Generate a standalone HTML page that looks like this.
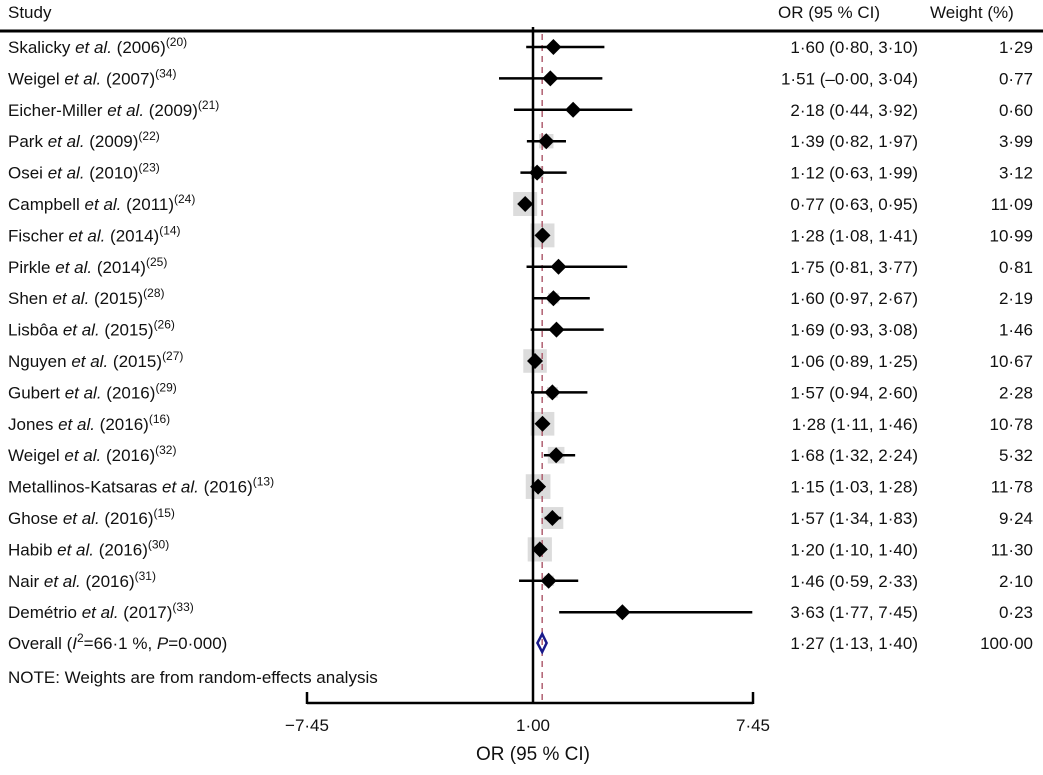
<!DOCTYPE html>
<html><head><meta charset="utf-8"><style>
body{margin:0;background:#fff;}
svg text{font-family:"Liberation Sans",Arial,sans-serif;font-size:17px;fill:#111;}
</style></head><body>
<svg id="plot" width="1043" height="770" xmlns="http://www.w3.org/2000/svg"></svg>
<script>
const studies=["Skalicky|(2006)|20","Weigel|(2007)|34","Eicher-Miller|(2009)|21","Park|(2009)|22","Osei|(2010)|23","Campbell|(2011)|24","Fischer|(2014)|14","Pirkle|(2014)|25","Shen|(2015)|28","Lisbôa|(2015)|26","Nguyen|(2015)|27","Gubert|(2016)|29","Jones|(2016)|16","Weigel|(2016)|32","Metallinos-Katsaras|(2016)|13","Ghose|(2016)|15","Habib|(2016)|30","Nair|(2016)|31","Demétrio|(2017)|33"];
const orVals=[1.60,1.51,2.18,1.39,1.12,0.77,1.28,1.75,1.60,1.69,1.06,1.57,1.28,1.68,1.15,1.57,1.20,1.46,3.63];
const lowVals=[0.80,-0.00,0.44,0.82,0.63,0.63,1.08,0.81,0.97,0.93,0.89,0.94,1.11,1.32,1.03,1.34,1.10,0.59,1.77];
const highVals=[3.10,3.04,3.92,1.97,1.99,0.95,1.41,3.77,2.67,3.08,1.25,2.60,1.46,2.24,1.28,1.83,1.40,2.33,7.45];
const weights=[1.29,0.77,0.60,3.99,3.12,11.09,10.99,0.81,2.19,1.46,10.67,2.28,10.78,5.32,11.78,9.24,11.30,2.10,0.23];
const overall=[1.27,1.13,1.40];
const tickVals=["−7·45","1·00","7·45"];
const svg=document.getElementById('plot');
const NS="http://www.w3.org/2000/svg";
const x=v=>533+(v-1)*34;
const y=i=>47+i*31.4;
const f=(v)=>(v<0||Object.is(v,-0)?"–":"")+Math.abs(v).toFixed(2).replace('.','·');
function el(t,a,p){const e=document.createElementNS(NS,t);for(const k in a)e.setAttribute(k,a[k]);(p||svg).appendChild(e);return e;}
function txt(s,xx,yy,anchor,name,fs){const e=el('text',{x:xx,y:yy,'text-anchor':anchor||'start'});if(fs)e.style.fontSize=fs+'px';e.innerHTML=s;


return e;}
txt("Study",8,18,'start','study-header');
txt("OR (95 % CI)",778,18,'start','or-header');
txt("Weight (%)",930,18,'start','weight-header');
let l=el('line',{x1:0,y1:31,x2:1043,y2:31,stroke:'#000','stroke-width':3});


studies.forEach((s,i)=>{
 const yy=y(i);
 const sz=7.2*Math.sqrt(weights[i]);
 let b=el('rect',{x:x(orVals[i])-sz/2,y:yy-sz/2,width:sz,height:sz,fill:'#dcdcdc'});
 
 
});
l=el('line',{x1:x(1),y1:27,x2:x(1),y2:703,stroke:'#000','stroke-width':2.5});


l=el('line',{x1:x(overall[0]),y1:34,x2:x(overall[0]),y2:703,stroke:'#b06070','stroke-width':1.5,'stroke-dasharray':'6,5'});


studies.forEach((s,i)=>{
 const [n,yr,r]=s.split('|');const yy=y(i);
 txt(n+' <tspan font-style="italic">et al.</tspan> '+yr+'<tspan dy="-7" font-size="12">('+r+')</tspan>',8,yy+6,'start','study-label');
 txt(f(orVals[i])+' ('+f(lowVals[i])+', '+f(highVals[i])+')',918,yy+6,'end','or-value');
 txt(weights[i].toFixed(2).replace('.','·'),1033,yy+6,'end','weight-value');
 let c=el('line',{x1:x(lowVals[i]),y1:yy,x2:x(highVals[i]),y2:yy,stroke:'#000','stroke-width':2.5});
 
 
 const cx=x(orVals[i]);
 let d=el('polygon',{points:`${cx-8},${yy} ${cx},${yy-8} ${cx+8},${yy} ${cx},${yy+8}`,fill:'#000'});
 
 
});
const oy=643;
txt('Overall (<tspan font-style="italic">I</tspan><tspan dy="-7" font-size="12">2</tspan><tspan dy="7">=66·1 %, </tspan><tspan font-style="italic">P</tspan>=0·000)',8,oy+6,'start','overall-label');
txt('1·27 (1·13, 1·40)',918,oy+6,'end','overall-or');
txt('100·00',1033,oy+6,'end','overall-weight');
let od=el('polygon',{points:`${x(overall[1])},${oy} ${x(overall[0])},${oy-9} ${x(overall[2])},${oy} ${x(overall[0])},${oy+9}`,fill:'none',stroke:'#1a1a8a','stroke-width':2.5});


txt('NOTE: Weights are from random-effects analysis',8,683,'start','note');
l=el('line',{x1:307,y1:703,x2:753,y2:703,stroke:'#000','stroke-width':2.5});


[307,753].forEach(tx=>{let t=el('line',{x1:tx,y1:692,x2:tx,y2:704,stroke:'#000','stroke-width':2.5});

});
[307,533,753].forEach((tx,i)=>txt(tickVals[i],tx,731,'middle','tick-label'));
txt('OR (95 % CI)',533,760,'middle','x-axis-title',19);
</script>
</body></html>
